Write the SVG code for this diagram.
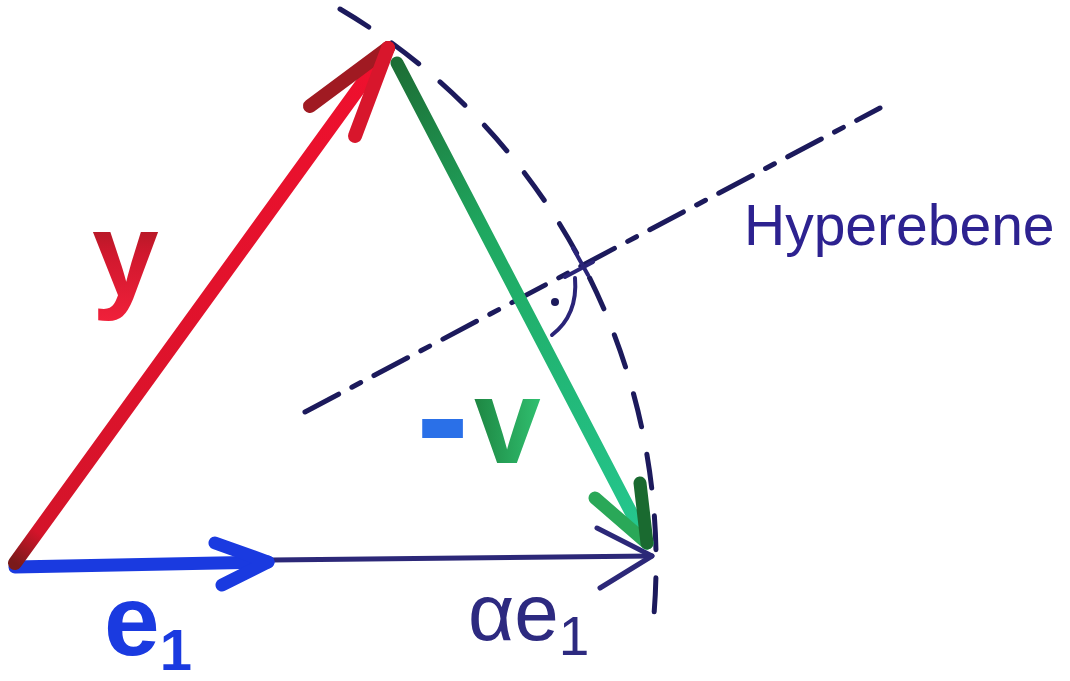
<svg xmlns="http://www.w3.org/2000/svg" width="1070" height="681" viewBox="0 0 1070 681">
<style>
.pen{fill:none;stroke-linecap:round;stroke-linejoin:round}
.dash{fill:none;stroke:#1c1a5c;stroke-width:5;stroke-linecap:round}
.hand{font-family:"Liberation Sans",Arial,sans-serif}
</style>
<defs>
<linearGradient id="gGreen" gradientUnits="userSpaceOnUse" x1="397" y1="63" x2="647" y2="543">
<stop offset="0" stop-color="#1d6e35"/><stop offset="0.35" stop-color="#1fa860"/><stop offset="1" stop-color="#25c890"/>
</linearGradient>
<linearGradient id="gRed" gradientUnits="userSpaceOnUse" x1="15" y1="563" x2="390" y2="45">
<stop offset="0" stop-color="#7a1a1a"/><stop offset="0.06" stop-color="#d4142a"/><stop offset="1" stop-color="#f0102e"/>
</linearGradient>
<linearGradient id="gY" x1="0" y1="0" x2="0" y2="1">
<stop offset="0" stop-color="#8a1a1a"/><stop offset="0.5" stop-color="#d0182e"/><stop offset="1" stop-color="#f0203a"/>
</linearGradient>
<linearGradient id="gV" x1="0" y1="0" x2="1" y2="0">
<stop offset="0" stop-color="#1a5a2a"/><stop offset="0.5" stop-color="#1f8a45"/><stop offset="1" stop-color="#30c070"/>
</linearGradient>
</defs>
<rect width="1070" height="681" fill="#ffffff"/>

<g id="construction">
<path class="dash" d="M340,9 A643,643 0 0 1 652,635" stroke-dasharray="34 28"/>
<line class="dash" x1="305" y1="412" x2="880" y2="108" stroke-dasharray="38 15 10 15"/>
<g id="right-angle" class="pen" stroke="#2a2478" stroke-width="4">
<line x1="573" y1="248" x2="588" y2="275"/>
<line x1="565" y1="277" x2="593" y2="262"/>
<path d="M575,278 Q578,315 552,335"/>
<circle cx="555" cy="302" r="4" fill="#1c1a5c" stroke="none"/>
</g>
</g>

<g id="connectors">
<g id="vec-alpha-e1" class="pen" stroke="#2c2878" stroke-width="5">
<line x1="272" y1="560" x2="652" y2="556"/>
<polyline points="597,528 652,556 600,588"/>
</g>
<g id="vec-e1" class="pen" stroke="#1a3ae0" stroke-width="13">
<line x1="15" y1="567" x2="268" y2="562"/>
<polyline points="215,543 268,562 222,585"/>
</g>
<g id="vec-y" class="pen" stroke-width="14">
<line x1="15" y1="563" x2="388" y2="48" stroke="url(#gRed)"/>
<line x1="388" y1="48" x2="310" y2="106" stroke="#a01a22"/>
<line x1="388" y1="48" x2="355" y2="136" stroke="#d8162c"/>
</g>
<g id="vec-minus-v" class="pen" stroke-width="13">
<line x1="397" y1="63" x2="647" y2="543" stroke="url(#gGreen)"/>
<line x1="647" y1="543" x2="595" y2="498" stroke="#2aa858"/>
<line x1="647" y1="543" x2="640" y2="483" stroke="#1a6a30"/>
</g>
</g>

<g id="labels">
<text id="label-y" class="hand" x="92" y="296" font-size="120" font-weight="bold" fill="url(#gY)">y</text>
<text id="label-minus-v" class="hand" font-weight="bold"><tspan x="416" y="470" font-size="160" fill="#2a70e8">-</tspan><tspan x="474" y="463" font-size="120" fill="url(#gV)">v</tspan></text>
<text id="label-e1" class="hand" x="104" y="655" font-size="100" font-weight="bold" fill="#1a3ae0">e<tspan font-size="58" dy="15">1</tspan></text>
<text id="label-alpha-e1" class="hand" x="468" y="640" font-size="80" fill="#2d2a80">αe<tspan font-size="55" dy="15">1</tspan></text>
<text id="label-hyperebene" class="hand" x="744" y="245" font-size="57" fill="#2d2290">Hyperebene</text>
</g>
</svg>
